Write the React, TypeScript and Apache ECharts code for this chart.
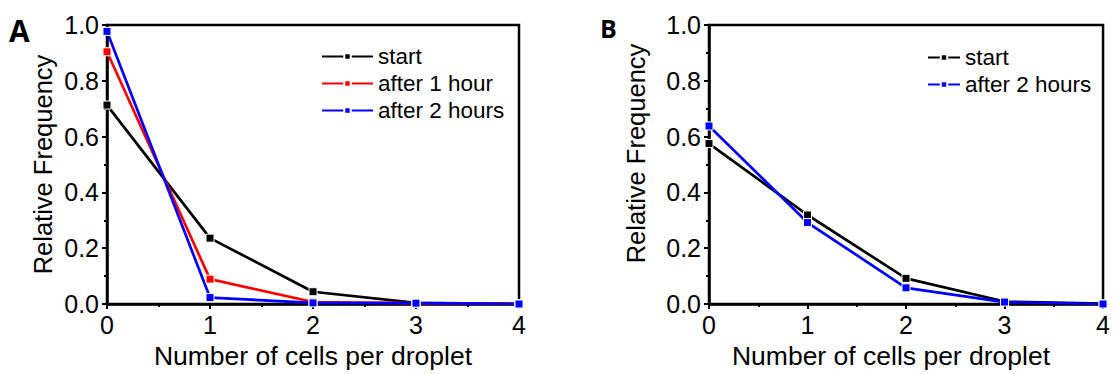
import React, { useEffect, useRef } from "react";
import * as echarts from "echarts";

const xValues = [0, 1, 2, 3, 4];
const tickLabelsY = ["0.0", "0.2", "0.4", "0.6", "0.8", "1.0"];

// Panel A
const aStart = [0.713, 0.236, 0.044, 0.004, 0.0];
const aAfter1h = [0.904, 0.089, 0.007, 0.003, 0.0];
const aAfter2h = [0.977, 0.023, 0.004, 0.003, 0.0];

// Panel B
const bStart = [0.575, 0.319, 0.092, 0.009, 0.001];
const bAfter2h = [0.638, 0.292, 0.058, 0.007, 0.0];

const FONT = "Liberation Sans";
const BLACK = "#000000";
const RED = "#ff0000";
const BLUE = "#0000ff";

const pairs = (ys: number[]) => xValues.map((x, i) => [x, ys[i]]);

function makeX(gridIndex: number, namePadding: number[]) {
  return {
    type: "value",
    gridIndex,
    min: 0,
    max: 4,
    interval: 1,
    name: "Number of cells per droplet",
    nameLocation: "middle",
    nameGap: 38,
    nameTextStyle: { fontSize: 26.5, color: BLACK, fontFamily: FONT, padding: namePadding },
    axisLine: { show: true, onZero: false, lineStyle: { color: BLACK, width: 2.5 } },
    axisTick: { show: true, inside: false, length: 5, lineStyle: { color: BLACK, width: 2 } },
    minorTick: { show: true, splitNumber: 2, length: 3, lineStyle: { color: BLACK, width: 2 } },
    splitLine: { show: false },
    minorSplitLine: { show: false },
    axisLabel: { color: BLACK, fontSize: 25, fontFamily: FONT, margin: 8 },
  };
}

function makeY(gridIndex: number, nameGap: number, namePadding: number[]) {
  return {
    type: "value",
    gridIndex,
    min: 0,
    max: 1,
    interval: 0.2,
    name: "Relative Frequency",
    nameLocation: "middle",
    nameGap,
    nameTextStyle: { fontSize: 25.5, color: BLACK, fontFamily: FONT, padding: namePadding },
    axisLine: { show: true, lineStyle: { color: BLACK, width: 2.5 } },
    axisTick: { show: true, inside: false, length: 5, lineStyle: { color: BLACK, width: 2 } },
    minorTick: { show: true, splitNumber: 2, length: 3, lineStyle: { color: BLACK, width: 2 } },
    splitLine: { show: false },
    minorSplitLine: { show: false },
    axisLabel: {
      color: BLACK,
      fontSize: 25,
      fontFamily: FONT,
      margin: 8,
      formatter: (v: number) => tickLabelsY[Math.round(v * 5)] ?? v.toFixed(1),
    },
  };
}

function makeSeries(name: string, color: string, data: number[], idx: number) {
  return {
    type: "line",
    name,
    xAxisIndex: idx,
    yAxisIndex: idx,
    data: pairs(data),
    symbol: "rect",
    symbolSize: 8,
    showSymbol: true,
    lineStyle: { color, width: 2.7 },
    itemStyle: { color, borderColor: "#ffffff", borderWidth: 1 },
    emphasis: { disabled: true },
  };
}

export default function App() {
  const ref = useRef<HTMLDivElement>(null);

  useEffect(() => {
    if (!ref.current) return;
    const chart = echarts.init(ref.current, undefined, { renderer: "svg" });
    chart.setOption({
      animation: false,
      backgroundColor: "#ffffff",
      grid: [
        { left: 107, top: 25, width: 412, height: 284, show: true, borderColor: BLACK, borderWidth: 2.5, backgroundColor: "transparent" },
        { left: 709, top: 25, width: 402, height: 284, show: true, borderColor: BLACK, borderWidth: 2.5, backgroundColor: "transparent" },
      ],
      xAxis: [makeX(0, [0, 0, 0, 0]), makeX(1, [0, 30, 0, 0])],
      yAxis: [makeY(0, 51, [0, 0, 0, 0]), makeY(1, 60, [0, 0, 0, 22])],
      legend: [
        {
          left: 316,
          top: 40,
          orient: "vertical",
          itemWidth: 51,
          itemHeight: 8,
          itemGap: 4,
          data: ["start", "after 1 hour", "after 2 hours"],
          textStyle: { fontSize: 22.5, color: BLACK, fontFamily: FONT, padding: [0, 0, 0, 0] },
          selectedMode: false,
        },
        {
          left: 922,
          top: 41,
          orient: "vertical",
          itemWidth: 32,
          itemHeight: 8,
          itemGap: 4,
          data: ["start", "after 2 hours"],
          textStyle: { fontSize: 22.5, color: BLACK, fontFamily: FONT, padding: [0, 0, 0, 0] },
          selectedMode: false,
        },
      ],
      graphic: [
        {
          type: "text",
          left: 9,
          top: 15,
          style: { text: "A", fontSize: 30, fontWeight: "bold", fontFamily: "Open Sans", fill: BLACK },
        },
        {
          type: "text",
          left: 600,
          top: 15,
          style: { text: "B", fontSize: 25, fontWeight: "bold", fontFamily: "Open Sans", fill: BLACK },
        },
      ],
      series: [
        makeSeries("start", BLACK, aStart, 0),
        makeSeries("after 1 hour", RED, aAfter1h, 0),
        makeSeries("after 2 hours", BLUE, aAfter2h, 0),
        makeSeries("start", BLACK, bStart, 1),
        makeSeries("after 2 hours", BLUE, bAfter2h, 1),
      ],
    });
    return () => chart.dispose();
  }, []);

  return (
    <div
      ref={ref}
      style={{ position: "absolute", left: 0, top: 0, width: 1113, height: 374, background: "#fff" }}
    />
  );
}
